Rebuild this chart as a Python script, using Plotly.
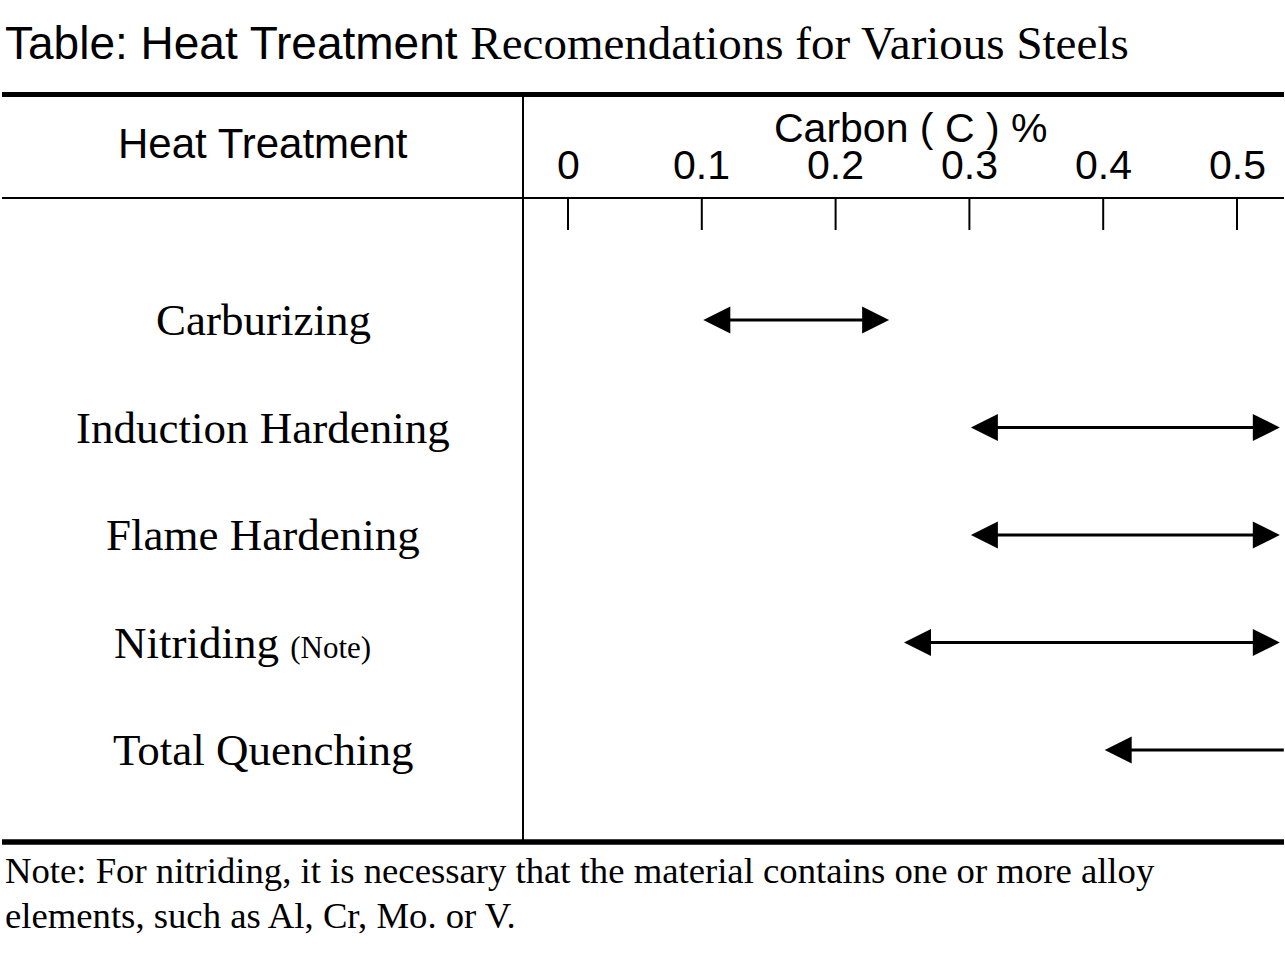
import plotly.graph_objects as go

# ---------------- data ----------------
treatments = ["Carburizing", "Induction Hardening", "Flame Hardening",
              "Nitriding", "Total Quenching"]
note_marks = ["", "", "", "(Note)", ""]
carbon_low = [0.10, 0.30, 0.30, 0.25, 0.40]
carbon_high = [0.24, 0.532, 0.532, 0.532, 0.535]
head_low = [True, True, True, True, True]
head_high = [True, True, True, True, False]
tick_vals = [0, 0.1, 0.2, 0.3, 0.4, 0.5]
tick_text = ["0", "0.1", "0.2", "0.3", "0.4", "0.5"]

title_sans = "Table: Heat Treatment"
title_serif = "Recomendations for Various Steels"
col1_header = "Heat Treatment"
col2_header = "Carbon ( C ) %"
note_lines = ["Note: For nitriding, it is necessary that the material contains one or more alloy",
              "elements, such as Al, Cr, Mo. or V."]

# ---------------- layout geometry ----------------
W, H = 1285, 964
X0_PX, PX_PER_UNIT = 568.0, 1338.0          # carbon 0 at 568px, 0.1 per 134px
ROW0_PX, ROW_STEP = 320.0, 107.5             # row centres

def px_x(p):
    return p / W

def px_y(p):
    return 1 - p / H

x_range = [(0 - X0_PX) / PX_PER_UNIT, (W - X0_PX) / PX_PER_UNIT]
y_range = [(H - ROW0_PX) / ROW_STEP, (0 - ROW0_PX) / ROW_STEP]

SANS = "Liberation Sans, Arial, sans-serif"
SERIF = "Liberation Serif, Times New Roman, serif"

fig = go.Figure()
fig.add_trace(go.Scatter(x=[None], y=[None], mode="markers", showlegend=False, hoverinfo="skip"))

shapes = []
# table rules
shapes.append(dict(type="line", xref="paper", yref="paper", x0=px_x(2), x1=px_x(1284),
                   y0=px_y(94.5), y1=px_y(94.5), line=dict(color="black", width=5)))
shapes.append(dict(type="line", xref="paper", yref="paper", x0=px_x(2), x1=px_x(1284),
                   y0=px_y(198), y1=px_y(198), line=dict(color="black", width=2)))
shapes.append(dict(type="line", xref="paper", yref="paper", x0=px_x(2), x1=px_x(1284),
                   y0=px_y(842), y1=px_y(842), line=dict(color="black", width=5.5)))
shapes.append(dict(type="line", xref="paper", yref="paper", x0=px_x(523), x1=px_x(523),
                   y0=px_y(95), y1=px_y(842), line=dict(color="black", width=2)))
# tick marks
for tv in tick_vals:
    shapes.append(dict(type="line", xref="x", yref="paper", x0=tv, x1=tv,
                       y0=px_y(199), y1=px_y(230), line=dict(color="black", width=2)))

annotations = []
# title
annotations.append(dict(
    xref="paper", yref="paper", x=px_x(3), y=px_y(43), xanchor="left", yanchor="middle",
    showarrow=False,
    text=(f"<span style='font-family:{SANS};font-size:46px'>{title_sans}</span> "
          f"<span style='font-family:{SERIF};font-size:47px'>{title_serif}</span>"),
    font=dict(family=SANS, size=46, color="black")))
# headers
annotations.append(dict(xref="paper", yref="paper", x=px_x(263), y=px_y(143),
                        xanchor="center", yanchor="middle", showarrow=False,
                        text=col1_header, font=dict(family=SANS, size=42, color="black")))
annotations.append(dict(xref="paper", yref="paper", x=px_x(910), y=px_y(128),
                        xanchor="center", yanchor="middle", showarrow=False,
                        text=col2_header, font=dict(family=SANS, size=41, color="black")))
# tick labels
for tv, tt in zip(tick_vals, tick_text):
    annotations.append(dict(xref="x", yref="paper", x=tv, y=px_y(165),
                            xanchor="center", yanchor="middle", showarrow=False,
                            text=tt, font=dict(family=SANS, size=41, color="black")))
# row labels and arrows
for i, (name, nm) in enumerate(zip(treatments, note_marks)):
    if nm:
        txt = f"{name} <span style='font-size:31px'>{nm}</span>"
        cx = 242
    else:
        txt = name
        cx = 263
    annotations.append(dict(xref="paper", yref="y", x=px_x(cx), y=i,
                            xanchor="center", yanchor="middle", showarrow=False,
                            text=txt, font=dict(family=SERIF, size=45, color="black")))
    side = []
    if head_high[i]:
        side.append("end")
    if head_low[i]:
        side.append("start")
    annotations.append(dict(xref="x", yref="y", axref="x", ayref="y",
                            x=carbon_high[i], y=i, ax=carbon_low[i], ay=i,
                            text="", showarrow=True,
                            arrowside="+".join(side),
                            arrowhead=2, startarrowhead=2,
                            arrowsize=1.8, startarrowsize=1.8,
                            arrowwidth=3, arrowcolor="black"))
# footnote
for k, line in enumerate(note_lines):
    annotations.append(dict(xref="paper", yref="paper", x=px_x(3), y=px_y(870 + 45 * k),
                            xanchor="left", yanchor="middle", showarrow=False,
                            text=line, font=dict(family=SERIF, size=36.7, color="black")))

fig.update_layout(
    width=W, height=H,
    margin=dict(l=0, r=0, t=0, b=0),
    paper_bgcolor="white", plot_bgcolor="white",
    xaxis=dict(range=x_range, visible=False, fixedrange=True),
    yaxis=dict(range=y_range, visible=False, fixedrange=True),
    shapes=shapes, annotations=annotations, showlegend=False,
)
fig.write_html("out.html", config={"displayModeBar": False},
               post_script="document.body.style.margin='0px';")
